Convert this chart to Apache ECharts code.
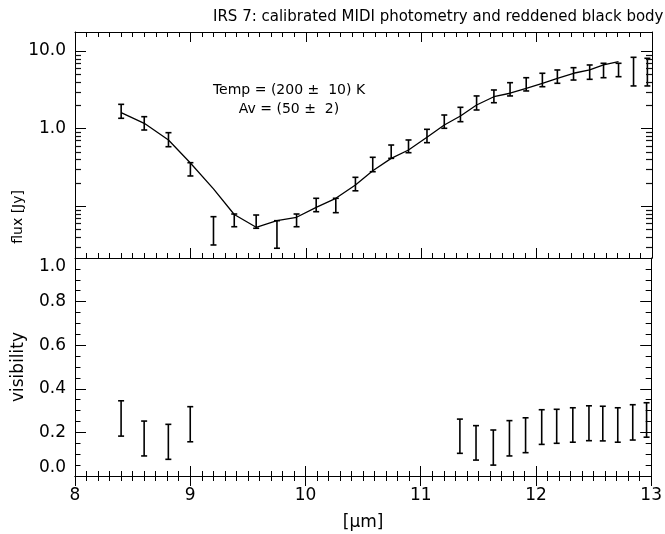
<!DOCTYPE html>
<html><head><meta charset="utf-8">
<script src="https://cdn.jsdelivr.net/npm/echarts@6.0.0/dist/echarts.min.js"></script>
<style>html,body{margin:0;padding:0;background:#fff}#c{width:665px;height:534px}</style>
</head><body><div id="c"></div>
<script>
// wavelength of each spectral channel [micron]
const wavelength = [8.40, 8.60, 8.81, 9.00, 9.20, 9.38, 9.57, 9.75, 9.92, 10.09,
  10.26, 10.43, 10.58, 10.74, 10.89, 11.05, 11.20, 11.34, 11.48, 11.63,
  11.77, 11.91, 12.05, 12.18, 12.32, 12.46, 12.58, 12.71, 12.84, 12.96];
// calibrated MIDI photometry: lower / upper end of the error bar [Jy]
const fluxLow = [1.354, 0.956, 0.582, 0.244, 0.0314, 0.054, 0.0516, 0.0285, 0.054, 0.0844,
  0.082, 0.157, 0.277, 0.412, 0.487, 0.656, 1.006, 1.224, 1.733, 2.15,
  2.63, 3.05, 3.46, 3.83, 4.22, 4.31, 4.52, 4.66, 3.54, 3.54];
const fluxHigh = [2.05, 1.42, 0.883, 0.362, 0.0728, 0.0788, 0.0765, 0.0646, 0.0788, 0.1257,
  0.1257, 0.2345, 0.425, 0.612, 0.711, 0.976, 1.493, 1.877, 2.63, 3.14,
  3.90, 4.52, 5.16, 5.69, 6.09, 6.6, 6.94, 6.94, 8.29, 8.05];
// reddened black body model (first 28 channels) [Jy]
const modelFlux = [1.60, 1.167, 0.711, 0.359, 0.166, 0.0777, 0.0531, 0.0646, 0.0715, 0.0962,
  0.1257, 0.1866, 0.2855, 0.412, 0.528, 0.77, 1.11, 1.45, 2.01, 2.57,
  2.85, 3.30, 3.83, 4.44, 5.16, 5.69, 6.6, 7.28];
// visibility error bars (null = no measurement)
const visLow = [0.183, 0.092, 0.0765, 0.157, null, null, null, null, null, null,
  null, null, null, null, null, null, null, 0.104, 0.073, 0.050,
  0.092, 0.107, 0.145, 0.150, 0.155, 0.162, 0.161, 0.155, 0.165, 0.178];
const visHigh = [0.345, 0.252, 0.237, 0.318, null, null, null, null, null, null,
  null, null, null, null, null, null, null, 0.261, 0.231, 0.211,
  0.254, 0.267, 0.304, 0.306, 0.313, 0.322, 0.320, 0.313, 0.327, 0.336];
const xTicks = [8, 9, 10, 11, 12, 13];
const titleText = 'IRS 7: calibrated MIDI photometry and reddened black body';
const fitLines = ['Temp = (200 \u00b1  10) K', 'Av = (50 \u00b1  2)'];

const FONT = 'DejaVu Sans';
const fluxMin = 0.02133, fluxMax = 17.58;
const xMin = xTicks[0], xMax = xTicks[xTicks.length - 1];

const fluxErr = wavelength.map((w, i) => [w, fluxLow[i], fluxHigh[i]]);
const visErr = wavelength.map((w, i) => [w, visLow[i], visHigh[i]]).filter(d => d[1] != null);
const modelData = modelFlux.map((v, i) => [wavelength[i], v]);

// minor log tick values 2..9 x decade inside the flux axis range
const minorVals = [];
for (let e = -2; e <= 1; e++) for (let k = 2; k <= 9; k++) {
  const v = k * Math.pow(10, e);
  if (v > fluxMin && v < fluxMax) minorVals.push(v);
}

function errRender(params, api) {
  const x = api.value(0), lo = api.value(1), hi = api.value(2);
  const p1 = api.coord([x, lo]), p2 = api.coord([x, hi]);
  const w = 3;
  const style = { stroke: '#000', lineWidth: 1.6 };
  return { type: 'group', children: [
    { type: 'line', shape: { x1: p1[0], y1: p1[1], x2: p2[0], y2: p2[1] }, style },
    { type: 'line', shape: { x1: p1[0] - w, y1: p1[1], x2: p1[0] + w, y2: p1[1] }, style },
    { type: 'line', shape: { x1: p2[0] - w, y1: p2[1], x2: p2[0] + w, y2: p2[1] }, style }
  ]};
}

const lineStyle = { color: '#000', width: 1 };
function xAx(grid, pos, labels) {
  return {
    type: 'value', gridIndex: grid, position: pos, min: xMin, max: xMax, interval: 1,
    axisLine: { lineStyle }, splitLine: { show: false },
    axisTick: { inside: true, length: 10, lineStyle },
    minorTick: { show: true, splitNumber: 10, length: 5, lineStyle },
    axisLabel: { show: labels, color: '#000', fontFamily: FONT, fontSize: 17, margin: 11 },
  };
}
const textEls = [
  { type: 'text', left: 11, top: 190, rotation: Math.PI / 2,
    style: { text: 'flux [Jy]', font: '14px "' + FONT + '"', fill: '#000' } },
  { type: 'text', x: 289, y: 90,
    style: { text: fitLines[0], font: '14px "' + FONT + '"', fill: '#000', align: 'center', verticalAlign: 'middle' } },
  { type: 'text', x: 289, y: 109,
    style: { text: fitLines[1], font: '14px "' + FONT + '"', fill: '#000', align: 'center', verticalAlign: 'middle' } }
];
const chart = echarts.init(document.getElementById('c'), null, { renderer: 'canvas' });
chart.setOption({
  backgroundColor: '#fff',
  animation: false,
  title: { text: titleText, left: 208, top: 5,
    textStyle: { fontFamily: FONT, fontSize: 15, fontWeight: 'normal', color: '#000' } },
  grid: [
    { left: 75, right: 13, top: 32, height: 226 },
    { left: 75, right: 13, top: 258, height: 218 }
  ],
  xAxis: [
    xAx(0, 'bottom', false), xAx(0, 'top', false),
    Object.assign(xAx(1, 'bottom', true), { name: '[\u03bcm]', nameLocation: 'middle', nameGap: 38,
      nameTextStyle: { fontFamily: FONT, fontSize: 17, color: '#000' } }),
    xAx(1, 'top', false)
  ],
  yAxis: [
    { type: 'log', logBase: 10, gridIndex: 0, position: 'left', min: fluxMin, max: fluxMax,
      axisLine: { lineStyle }, splitLine: { show: false },
      axisTick: { inside: true, length: 11, lineStyle },
      axisLabel: { color: '#000', fontFamily: FONT, fontSize: 17, margin: 9,
        formatter: v => Math.abs(v - 1) < 1e-6 ? '1.0' : (Math.abs(v - 10) < 1e-5 ? '10.0' : '') } },
    { type: 'log', logBase: 10, gridIndex: 0, position: 'right', min: fluxMin, max: fluxMax,
      axisLine: { lineStyle }, splitLine: { show: false },
      axisTick: { inside: true, length: 11, lineStyle }, axisLabel: { show: false } },
    { type: 'value', gridIndex: 1, position: 'left', min: 0, max: 1, interval: 0.2,
      name: 'visibility', nameLocation: 'middle', nameGap: 48,
      nameTextStyle: { fontFamily: FONT, fontSize: 17, color: '#000' },
      axisLine: { lineStyle }, splitLine: { show: false },
      axisTick: { inside: true, length: 11, lineStyle },
      minorTick: { show: true, splitNumber: 4, length: 5.5, lineStyle },
      axisLabel: { color: '#000', fontFamily: FONT, fontSize: 17, margin: 9,
        formatter: v => v.toFixed(1), verticalAlignMinLabel: 'bottom', verticalAlignMaxLabel: 'top' } },
    { type: 'value', gridIndex: 1, position: 'right', min: 0, max: 1, interval: 0.2,
      axisLine: { lineStyle }, splitLine: { show: false },
      axisTick: { inside: true, length: 11, lineStyle },
      minorTick: { show: true, splitNumber: 4, length: 5.5, lineStyle },
      axisLabel: { show: false } }
  ],
  graphic: textEls,
  series: [
    { type: 'line', xAxisIndex: 0, yAxisIndex: 0, data: modelData, showSymbol: false,
      lineStyle: { color: '#000', width: 1.3 }, z: 3 },
    { type: 'custom', xAxisIndex: 0, yAxisIndex: 0, data: fluxErr, renderItem: errRender,
      encode: { x: 0, y: [1, 2] }, z: 4 },
    { type: 'custom', xAxisIndex: 2, yAxisIndex: 2, data: visErr, renderItem: errRender,
      encode: { x: 0, y: [1, 2] }, z: 4 }
  ]
});

// minor log ticks on the left and right frame, placed through the flux axis scale
const tickEls = [];
const tickStyle = { stroke: '#111', lineWidth: 1.2 };
minorVals.forEach(v => {
  const a = chart.convertToPixel({ xAxisIndex: 0, yAxisIndex: 0 }, [xMin, v]);
  const b = chart.convertToPixel({ xAxisIndex: 0, yAxisIndex: 0 }, [xMax, v]);
  if (!a || !b) return;
  const ya = Math.round(a[1]) + 0.5, yb = Math.round(b[1]) + 0.5;
  tickEls.push({ type: 'line', silent: true, z: 10,
    shape: { x1: a[0], y1: ya, x2: a[0] + 6, y2: ya }, style: tickStyle });
  tickEls.push({ type: 'line', silent: true, z: 10,
    shape: { x1: b[0], y1: yb, x2: b[0] - 6, y2: yb }, style: tickStyle });
});
chart.setOption({ graphic: textEls.concat([{ type: 'group', children: tickEls }]) });
</script></body></html>
